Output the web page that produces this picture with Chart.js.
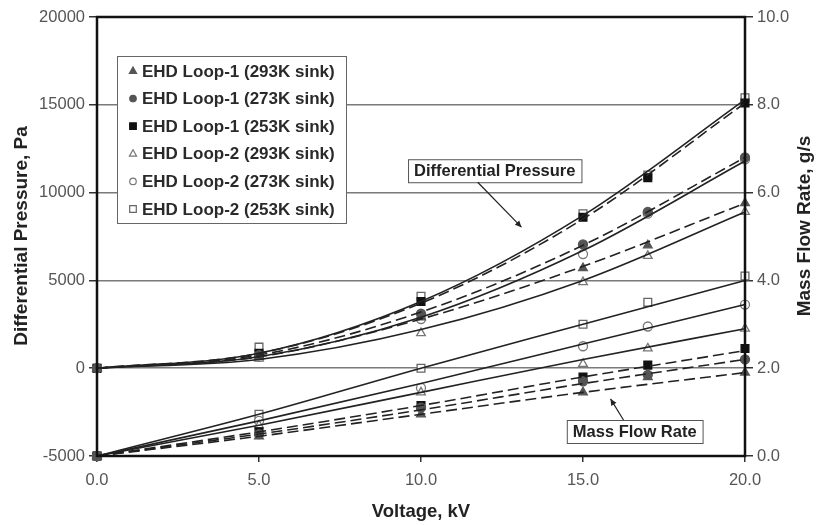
<!DOCTYPE html>
<html>
<head>
<meta charset="utf-8">
<script src="https://cdn.jsdelivr.net/npm/chart.js@4.4.1/dist/chart.umd.min.js"></script>
<style>
  html, body { margin: 0; padding: 0; background: #fff; }
  #wrap { width: 817px; height: 525px; }
</style>
</head>
<body>
<div id="wrap"><canvas id="chart" width="817" height="525"></canvas></div>
<script>
// --- measured points: voltage (kV), differential pressure (Pa), mass flow (g/s) ---
const volts = [0, 5, 10, 15, 17, 20];
const fitVolts = [0, 5, 10, 15, 20];

const seriesNames = [
  'EHD Loop-1 (293K sink)',
  'EHD Loop-1 (273K sink)',
  'EHD Loop-1 (253K sink)',
  'EHD Loop-2 (293K sink)',
  'EHD Loop-2 (273K sink)',
  'EHD Loop-2 (253K sink)'
];

// differential pressure, Pa
const dpL1_293 = [0, 650, 2900, 5700, 7000, 9400];
const dpL1_273 = [0, 750, 3100, 7050, 8900, 12000];
const dpL1_253 = [0, 850, 3800, 8600, 10850, 15100];
const dpL2_293 = [0, 550, 2000, 4900, 6400, 8900];
const dpL2_273 = [0, 650, 2800, 6500, 8800, 11900];
const dpL2_253 = [0, 1200, 4100, 8800, 11000, 15400];

// mass flow rate, g/s
const mfL1_293 = [0, 0.45, 0.95, 1.45, 1.8, 1.9];
const mfL1_273 = [0, 0.5, 1.1, 1.7, 1.85, 2.2];
const mfL1_253 = [0, 0.55, 1.15, 1.8, 2.07, 2.45];
const mfL2_293 = [0, 0.7, 1.45, 2.1, 2.45, 2.9];
const mfL2_273 = [0, 0.8, 1.55, 2.5, 2.95, 3.45];
const mfL2_253 = [0, 0.95, 2.0, 3.0, 3.5, 4.1];

// trend curves through the points (at fitVolts)
const dpFitL1_293 = [0, 650, 2800, 5800, 9400];
const dpFitL1_273 = [0, 750, 3200, 7000, 12000];
const dpFitL1_253 = [0, 850, 3700, 8500, 15100];
const dpFitL2_293 = [0, 500, 2200, 5000, 8900];
const dpFitL2_273 = [0, 650, 2900, 6700, 11800];
const dpFitL2_253 = [0, 850, 3800, 8700, 15300];

const mfFitL1_293 = [0, 0.45, 0.95, 1.45, 1.9];
const mfFitL1_273 = [0, 0.5, 1.05, 1.65, 2.2];
const mfFitL1_253 = [0, 0.55, 1.15, 1.8, 2.4];
const mfFitL2_293 = [0, 0.7, 1.45, 2.2, 2.9];
const mfFitL2_273 = [0, 0.8, 1.65, 2.55, 3.45];
const mfFitL2_253 = [0, 0.95, 2.0, 3.0, 4.0];

const FONT = '"Liberation Sans", Arial, Helvetica, sans-serif';

// marker look per series (same order as seriesNames)
const markers = [
  { style: 'triangle', fill: '#555', stroke: '#555', r: 5 },
  { style: 'circle',   fill: '#555', stroke: '#555', r: 4.5 },
  { style: 'rect',     fill: '#111', stroke: '#111', r: 5.5 },
  { style: 'triangle', fill: '#fff', stroke: '#777', r: 5 },
  { style: 'circle',   fill: '#fff', stroke: '#777', r: 4.5 },
  { style: 'rect',     fill: '#fff', stroke: '#666', r: 5.5 }
];

const dpPoints = [dpL1_293, dpL1_273, dpL1_253, dpL2_293, dpL2_273, dpL2_253];
const mfPoints = [mfL1_293, mfL1_273, mfL1_253, mfL2_293, mfL2_273, mfL2_253];
const dpFits = [dpFitL1_293, dpFitL1_273, dpFitL1_253, dpFitL2_293, dpFitL2_273, dpFitL2_253];
const mfFits = [mfFitL1_293, mfFitL1_273, mfFitL1_253, mfFitL2_293, mfFitL2_273, mfFitL2_253];

function toXY(xs, ys) {
  return xs.map((x, i) => ({ x: x, y: ys[i] }));
}

function fitDataset(xs, ys, axis, loop1) {
  return {
    data: toXY(xs, ys),
    yAxisID: axis,
    showLine: true,
    pointRadius: 0,
    borderColor: '#222',
    borderWidth: 1.6,
    borderDash: loop1 ? [11, 5] : [],
    cubicInterpolationMode: 'monotone',
    clip: false
  };
}

function pointDataset(xs, ys, axis, m) {
  return {
    data: toXY(xs, ys),
    yAxisID: axis,
    showLine: false,
    pointStyle: m.style,
    pointRadius: m.r,
    pointBackgroundColor: m.fill,
    pointBorderColor: m.stroke,
    pointBorderWidth: 1.3,
    clip: false
  };
}

const datasets = [];
for (let i = 0; i < 6; i++) {
  const loop1 = i < 3;
  datasets.push(fitDataset(fitVolts, dpFits[i], 'yP', loop1));
  datasets.push(fitDataset(fitVolts, mfFits[i], 'yF', loop1));
}
for (let i = 0; i < 6; i++) {
  datasets.push(pointDataset(volts, dpPoints[i], 'yP', markers[i]));
  datasets.push(pointDataset(volts, mfPoints[i], 'yF', markers[i]));
}

function drawMarker(ctx, m, x, y) {
  ctx.save();
  ctx.fillStyle = m.fill;
  ctx.strokeStyle = m.stroke;
  ctx.lineWidth = 1.2;
  ctx.beginPath();
  const r = m.r * 0.8;
  if (m.style === 'triangle') {
    ctx.moveTo(x, y - r);
    ctx.lineTo(x + r * 0.9, y + r * 0.6);
    ctx.lineTo(x - r * 0.9, y + r * 0.6);
    ctx.closePath();
  } else if (m.style === 'circle') {
    ctx.arc(x, y, r * 0.9, 0, Math.PI * 2);
  } else {
    ctx.rect(x - r * 0.75, y - r * 0.75, r * 1.5, r * 1.5);
  }
  ctx.fill();
  ctx.stroke();
  ctx.restore();
}

function arrowHead(ctx, x0, y0, x1, y1, size) {
  const a = Math.atan2(y1 - y0, x1 - x0);
  ctx.beginPath();
  ctx.moveTo(x1, y1);
  ctx.lineTo(x1 - size * Math.cos(a - 0.45), y1 - size * Math.sin(a - 0.45));
  ctx.lineTo(x1 - size * Math.cos(a + 0.45), y1 - size * Math.sin(a + 0.45));
  ctx.closePath();
  ctx.fill();
}

function noteBox(ctx, text, x, y) {
  ctx.font = 'bold 16.5px ' + FONT;
  const w = ctx.measureText(text).width + 12;
  const h = 23;
  ctx.fillStyle = '#fff';
  ctx.fillRect(x, y, w, h);
  ctx.strokeStyle = '#555';
  ctx.lineWidth = 1;
  ctx.strokeRect(x + 0.5, y + 0.5, w, h);
  ctx.fillStyle = '#222';
  ctx.textAlign = 'left';
  ctx.textBaseline = 'middle';
  ctx.fillText(text, x + 6, y + h / 2 + 1);
  return { w: w, h: h };
}

const decorations = {
  id: 'decorations',
  afterDraw(chart) {
    const ctx = chart.ctx;
    const a = chart.chartArea;
    const sx = chart.scales.x, sp = chart.scales.yP, sf = chart.scales.yF;
    ctx.save();

    // plot frame
    ctx.strokeStyle = '#111';
    ctx.lineWidth = 2.5;
    ctx.strokeRect(a.left, a.top, a.right - a.left, a.bottom - a.top);

    // legend box
    const lx = 117, ly = 56, lw = 229, lh = 167;
    ctx.fillStyle = '#fff';
    ctx.fillRect(lx, ly, lw, lh);
    ctx.strokeStyle = '#666';
    ctx.lineWidth = 1;
    ctx.strokeRect(lx + 0.5, ly + 0.5, lw, lh);
    ctx.font = 'bold 17px ' + FONT;
    ctx.textAlign = 'left';
    ctx.textBaseline = 'middle';
    seriesNames.forEach((name, i) => {
      const cy = ly + 15 + i * 27.6;
      drawMarker(ctx, markers[i], lx + 16, cy);
      ctx.fillStyle = '#2a2a2a';
      ctx.fillText(name, lx + 25, cy + 1);
    });

    // notes with arrows, anchored in data space
    const dpBox = noteBox(ctx, 'Differential Pressure', sx.getPixelForValue(9.6), sp.getPixelForValue(11900));
    ctx.strokeStyle = '#222';
    ctx.fillStyle = '#222';
    ctx.lineWidth = 1.2;
    let x0 = sx.getPixelForValue(11.75), y0 = sp.getPixelForValue(11900) + dpBox.h;
    let x1 = sx.getPixelForValue(13.1), y1 = sp.getPixelForValue(8030);
    ctx.beginPath(); ctx.moveTo(x0, y0); ctx.lineTo(x1, y1); ctx.stroke();
    arrowHead(ctx, x0, y0, x1, y1, 7);

    noteBox(ctx, 'Mass Flow Rate', sx.getPixelForValue(14.5), sf.getPixelForValue(0.82));
    ctx.strokeStyle = '#222';
    ctx.fillStyle = '#222';
    ctx.lineWidth = 1.2;
    x0 = sx.getPixelForValue(16.25); y0 = sf.getPixelForValue(0.82);
    x1 = sx.getPixelForValue(15.85); y1 = sf.getPixelForValue(1.3);
    ctx.beginPath(); ctx.moveTo(x0, y0); ctx.lineTo(x1, y1); ctx.stroke();
    arrowHead(ctx, x0, y0, x1, y1, 7);

    // axis titles
    ctx.fillStyle = '#222';
    ctx.textAlign = 'center';
    ctx.textBaseline = 'middle';
    ctx.font = 'bold 18.5px ' + FONT;
    ctx.fillText('Voltage, kV', (a.left + a.right) / 2, 512);

    ctx.font = 'bold 19px ' + FONT;
    ctx.save();
    ctx.translate(22, 236);
    ctx.rotate(-Math.PI / 2);
    ctx.fillText('Differential Pressure, Pa', 0, 0);
    ctx.restore();

    ctx.save();
    ctx.translate(805, 226);
    ctx.rotate(-Math.PI / 2);
    ctx.fillText('Mass Flow Rate, g/s', 0, 0);
    ctx.restore();

    ctx.restore();
  }
};

const tickFont = { family: FONT, size: 16.5 };

new Chart(document.getElementById('chart'), {
  type: 'scatter',
  data: { datasets: datasets },
  options: {
    responsive: false,
    animation: false,
    layout: { padding: { top: 17, left: 0, right: 0, bottom: 0 } },
    plugins: { legend: { display: false }, tooltip: { enabled: false } },
    scales: {
      x: {
        type: 'linear',
        min: 0, max: 20,
        ticks: { stepSize: 5, color: '#555', font: tickFont, padding: 9,
                 callback: v => v.toFixed(1) },
        grid: { drawOnChartArea: false, tickLength: 6, tickColor: '#333', lineWidth: 1.5 },
        border: { display: false },
        afterFit: s => { s.height = 69; }
      },
      yP: {
        type: 'linear',
        position: 'left',
        min: -5000, max: 20000,
        ticks: { stepSize: 5000, color: '#555', font: tickFont, padding: 4,
                 callback: v => String(v) },
        grid: {
          color: c => (c.tick && (c.tick.value === -5000 || c.tick.value === 20000)) ? 'rgba(0,0,0,0)' : '#7a7a7a',
          tickColor: '#333',
          lineWidth: 1.5,
          tickLength: 8
        },
        border: { display: false },
        afterFit: s => { s.width = 97; }
      },
      yF: {
        type: 'linear',
        position: 'right',
        min: 0, max: 10,
        ticks: { stepSize: 2, color: '#555', font: tickFont, padding: 4,
                 callback: v => v.toFixed(1) },
        grid: { drawOnChartArea: false, tickLength: 8, tickColor: '#333', lineWidth: 1.5 },
        border: { display: false },
        afterFit: s => { s.width = 72; }
      }
    }
  },
  plugins: [decorations]
});
</script>
</body>
</html>
